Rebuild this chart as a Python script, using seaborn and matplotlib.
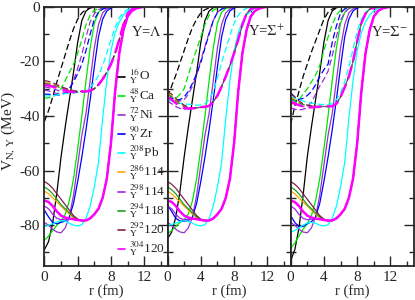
import numpy as np
import pandas as pd
import matplotlib
matplotlib.use('Agg')
import matplotlib.pyplot as plt
import seaborn as sns
from matplotlib.lines import Line2D
from matplotlib.ticker import MultipleLocator

# radial grid (fm) the curves were read on
r = [0, 0.5, 1, 1.5, 2, 2.5, 3, 3.5, 4, 4.5, 5, 5.5, 6, 6.5, 7, 7.5, 8, 8.5,
     9, 9.5, 10, 10.5, 11, 11.5, 12]

nuclei = ['16O', '48Ca', '72Ni', '90Zr', '208Pb', '286_114', '298_114', '294_118', '292_120', '304_120']
labels = [r'$^{16}_{\rm Y}$O', r'$^{48}_{\rm Y}$Ca', r'$^{72}_{\rm Y}$Ni', r'$^{90}_{\rm Y}$Zr',
          r'$^{208}_{\rm Y}$Pb', r'$^{286}_{\rm Y}$114', r'$^{298}_{\rm Y}$114', r'$^{294}_{\rm Y}$118',
          r'$^{292}_{\rm Y}$120', r'$^{304}_{\rm Y}$120']
colors = ['black', '#00e600', '#9932cc', '#0000ff', '#00ffff', '#ffa500', '#a020f0', '#1f9f1f',
          '#80204f', '#ff00ff']

# nucleon potential V_N (solid), MeV -- Lambda panel
vN_O = [-89, -86, -79, -68, -55, -44, -34, -24, -13, -5, -1.5, -0.3, 0]
vN_Ca = [-85.5, -84, -82, -80, -78.5, -76, -71, -63, -52, -40, -27, -15, -6, -2, -0.6, -0.2, 0]
vN_Ni = [-79, -80, -81.5, -82.5, -82.8, -81, -77, -69, -58, -47, -39, -27, -15, -6.5, -2.2, -0.7, -0.2, 0]
vN_Zr = [-74.5, -77, -79, -79.5, -79, -78.5, -77, -72, -64, -55, -45, -34, -22, -11, -4.5, -1.5, -0.4, 0]
vN_Pb = [-80.5, -80, -79.5, -78.8, -78.3, -78.5, -79.3, -80, -80.3, -79.8, -77.5, -73, -66, -57, -41,
         -27, -16, -9.5, -5.5, -3, -1.5, -0.6, -0.2, 0]
vN_she_tail = [-78.3, -78.3, -77.5, -76, -74, -70, -63, -50, -31, -17, -8.5, -3.5, -1.5, -0.6, -0.2, 0]
vN_286_114 = [-67.5, -68.5, -70, -71.5, -73, -74.5, -76, -77.3, -78.2] + vN_she_tail
vN_298_114 = [-73, -74, -76, -77.5, -78, -77.8, -77.5, -77.8, -78.2] + vN_she_tail
vN_294_118 = [-66, -67, -68.5, -70.5, -72.5, -74, -75.5, -77, -78] + vN_she_tail
vN_292_120 = [-64, -65, -66.5, -68.5, -70.5, -72.5, -74.5, -76.5, -77.8] + vN_she_tail
vN_304_120 = [-71, -71.5, -73, -75, -76.5, -77.2, -77.6, -77.8, -78.1] + vN_she_tail

# the light cores sit a little shallower with Sigma+ and deeper with Sigma-
vN_O_sp = [-85, -82.5, -77, -67.5] + vN_O[4:]
vN_Ca_sp = [-83, -82, -80.5, -79, -78, -76] + vN_Ca[6:]
vN_Zr_sp = [-72.5, -75, -77.5, -78.5, -78.5, -78.3] + vN_Zr[6:]
vN_Pb_sp = [-80, -79.7, -79.3, -78.7, -78.3, -78.5] + vN_Pb[6:]
vN_O_sm = [-93, -89, -81, -69] + vN_O[4:]
vN_Ca_sm = [-88.5, -86.5, -84, -81.5, -79.5, -76.5] + vN_Ca[6:]
vN_Zr_sm = [-76.5, -79, -80.5, -80.5, -79.5, -78.7] + vN_Zr[6:]
vN_Pb_sm = [-82.5, -82, -81, -80, -79.2, -79] + vN_Pb[6:]

# Lambda potential (dashed)
vL_O = [-42, -38, -33, -27.5, -22.5, -17.5, -12.5, -8, -4.5, -2.2, -1, -0.4, -0.1, 0]
vL_Ca = [-33.5, -33.3, -33, -32, -30, -27, -24, -21, -17, -12, -6.5, -3, -1.3, -0.5, -0.2, 0]
vL_Ni = [-30.5, -30.8, -31.3, -31.8, -32, -31.5, -30, -27, -22.5, -17.5, -11, -5.5, -2.5, -1, -0.4, -0.1, 0]
vL_Zr = [-32, -32, -32.2, -32.3, -32.2, -31.5, -30, -27.5, -24.5, -21, -16, -10, -4.5, -2, -0.8, -0.3, -0.1, 0]
vL_Pb = [-32.7, -32.6, -32.5, -32.3, -32, -31.8, -31.6, -31.5, -31.4, -31.2, -30.7, -29.5, -27.8, -25,
         -21.5, -17, -12, -7.5, -4, -2, -0.9, -0.4, -0.1, 0]
vL_she_tail = [-31, -31, -30.7, -30, -28.5, -26.5, -24, -21, -17, -12, -6.5, -2.5, -0.9, -0.3, 0]
vL_286_114 = [-27.6, -27.9, -28.3, -28.9, -29.5, -30, -30.4, -30.8, -31] + vL_she_tail
vL_298_114 = [-29.3, -29.6, -30, -30.5, -31, -31.3, -31.5, -31.4, -31.2] + vL_she_tail
vL_294_118 = [-28, -28.2, -28.6, -29.2, -29.7, -30.2, -30.6, -30.9, -31] + vL_she_tail
vL_292_120 = [-27, -27.3, -27.8, -28.5, -29.2, -29.8, -30.3, -30.7, -31] + vL_she_tail
vL_304_120 = [-28.5, -28.8, -29.2, -29.6, -30.1, -30.6, -31, -31.2, -31.2] + vL_she_tail

# Sigma+ potential (dashed)
vSp_O = [-33, -29, -25, -20.5, -16, -11.5, -7.5, -4.5, -2.2, -1, -0.4, -0.1, 0]
vSp_Ca = [-33, -33.5, -33.5, -32, -30, -25, -20, -15.5, -11, -6.5, -3, -1.2, -0.4, 0]
vSp_Ni = [-32, -33, -34, -34.5, -34, -32, -29, -25, -19.5, -14.5, -9.5, -5, -2, -0.8, -0.2, 0]
vSp_Zr = [-33, -33.5, -34, -34, -33, -31, -28, -24.5, -20.5, -15, -10, -5, -2, -0.8, -0.3, 0]
vSp_Pb = [-34, -34.5, -35, -35.3, -35.5, -35.7, -35.8, -36, -36, -35.5, -34, -31, -26, -20.5, -15.5,
          -10.5, -6, -3, -1.3, -0.5, -0.2, 0]
vSp_she_tail = [-36.6, -36.3, -34.8, -32.5, -29.2, -25.5, -21.5, -17, -12, -6.5, -2.5, -0.8, -0.2, 0]
vSp_286_114 = [-31.5, -32.5, -34, -35.3, -36.3, -37, -37.1, -37, -36.8] + vSp_she_tail
vSp_298_114 = [-34.5, -35.5, -36.5, -37.2, -37.5, -37.4, -37.2, -37, -36.8] + vSp_she_tail
vSp_294_118 = [-32, -33, -34.5, -35.7, -36.5, -37, -37.1, -37, -36.8] + vSp_she_tail
vSp_292_120 = [-31, -32, -33.5, -35, -36, -36.8, -37, -37, -36.8] + vSp_she_tail
vSp_304_120 = [-33, -34, -35.3, -36.3, -37, -37.2, -37.2, -37, -36.8] + vSp_she_tail

# Sigma- potential (dashed)
vSm_O = [-43, -36.5, -31, -25.5, -21, -16.5, -12.5, -8.5, -4.5, -2, -0.8, -0.2, 0]
vSm_Ca = [-35, -35, -34, -32, -30, -27.5, -25, -21.5, -16, -11, -6.5, -3, -1.2, -0.4, 0]
vSm_Ni = [-34, -35, -36, -36.5, -36.5, -35, -32, -29, -26.5, -23.5, -18, -11, -5, -2, -0.6, -0.1, 0]
vSm_Zr = [-31.5, -33, -34, -33.5, -32.5, -31, -28.5, -25.5, -23, -21, -13, -7, -2.2, -0.8, -0.2, 0]
vSm_Pb = [-33, -33.5, -34, -34.5, -35, -35.3, -35.5, -35.7, -35.8, -35.8, -35.5, -34, -31.5, -27.5,
          -22, -15.5, -9, -4.5, -2, -0.8, -0.3, 0]
vSm_she_tail = [-36.5, -36.4, -35.5, -33, -29.5, -25.5, -20, -12.5, -6, -2.5, -0.8, -0.3, 0]
vSm_286_114 = [-33, -34, -35, -35.8, -36.2, -36.4, -36.5, -36.5, -36.5] + vSm_she_tail
vSm_298_114 = [-37, -37.5, -37.8, -37.5, -37, -36.8, -36.6, -36.5, -36.5] + vSm_she_tail
vSm_294_118 = [-33.5, -34.3, -35.2, -35.8, -36.2, -36.4, -36.5, -36.5, -36.5] + vSm_she_tail
vSm_292_120 = [-32, -33, -34.5, -35.5, -36, -36.3, -36.5, -36.5, -36.5] + vSm_she_tail
vSm_304_120 = [-35, -35.5, -36, -36.5, -36.8, -36.8, -36.7, -36.6, -36.5] + vSm_she_tail

she_solid = [vN_286_114, vN_298_114, vN_294_118, vN_292_120, vN_304_120]
panels = [
    (r'Y=$\Lambda$',
     [vN_O, vN_Ca, vN_Ni, vN_Zr, vN_Pb] + she_solid,
     [vL_O, vL_Ca, vL_Ni, vL_Zr, vL_Pb, vL_286_114, vL_298_114, vL_294_118, vL_292_120, vL_304_120]),
    (r'Y=$\Sigma^{+}$',
     [vN_O_sp, vN_Ca_sp, vN_Ni, vN_Zr_sp, vN_Pb_sp] + she_solid,
     [vSp_O, vSp_Ca, vSp_Ni, vSp_Zr, vSp_Pb, vSp_286_114, vSp_298_114, vSp_294_118, vSp_292_120, vSp_304_120]),
    (r'Y=$\Sigma^{-}$',
     [vN_O_sm, vN_Ca_sm, vN_Ni, vN_Zr_sm, vN_Pb_sm] + she_solid,
     [vSm_O, vSm_Ca, vSm_Ni, vSm_Zr, vSm_Pb, vSm_286_114, vSm_298_114, vSm_294_118, vSm_292_120, vSm_304_120]),
]

sns.set_style('ticks')
plt.rcParams['font.family'] = ['Liberation Serif', 'DejaVu Serif']
plt.rcParams['mathtext.fontset'] = 'stix'
plt.rcParams['axes.unicode_minus'] = False
plt.rcParams['font.size'] = 10

fig, axes = plt.subplots(1, 3, figsize=(4.15, 3.0), dpi=100, sharey=True)
fig.subplots_adjust(left=0.107, right=0.997, top=0.977, bottom=0.113, wspace=0)

for ax, (title, solid_sets, dash_sets) in zip(axes, panels):
    for i, nuc in enumerate(nuclei):
        lw = 1.8 if nuc == '304_120' else 0.9
        vs = solid_sets[i]
        df = pd.DataFrame({'r': r[:len(vs)], 'V': vs})
        sns.lineplot(data=df, x='r', y='V', ax=ax, color=colors[i], lw=lw,
                     estimator=None, sort=False)
        vd = dash_sets[i]
        df = pd.DataFrame({'r': r[:len(vd)], 'V': vd})
        sns.lineplot(data=df, x='r', y='V', ax=ax, color=colors[i], lw=lw,
                     linestyle=(0, (5, 2.5)), estimator=None, sort=False)
    ax.set_xlim(0, 14.8)
    ax.set_ylim(-95, 0)
    ax.xaxis.set_major_locator(MultipleLocator(4))
    ax.xaxis.set_minor_locator(MultipleLocator(2))
    ax.yaxis.set_major_locator(MultipleLocator(20))
    ax.yaxis.set_minor_locator(MultipleLocator(10))
    ax.tick_params(which='both', direction='in', top=True, right=True, width=1.0, labelsize=11)
    ax.tick_params(which='major', length=7)
    ax.tick_params(which='minor', length=3.5)
    for s in ax.spines.values():
        s.set_linewidth(1.3)
    ax.set_xlabel('r (fm)', fontsize=10.5, labelpad=0)
    ax.set_ylabel('')
    ax.text(0.95, 0.905, title, transform=ax.transAxes, ha='right', va='center', fontsize=10.5)

axes[0].set_yticks([-80, -60, -40, -20, 0])
axes[0].set_yticklabels(['-80', '-60', '-40', '-20', '0'])
axes[0].set_ylabel(r'V$_{\rm N,\,Y}$ (MeV)', fontsize=11)
axes[0].yaxis.set_label_coords(-0.225, 0.52)

# legend drawn by hand so the rows sit at the reference spacing
W, H = 415.0, 300.0
for i, (lab, c) in enumerate(zip(labels, colors)):
    y_px = 76.7 + i * 19.14
    y = 1 - y_px / H
    fig.add_artist(Line2D([118 / W, 125 / W], [y, y], color=c, lw=1.2,
                          transform=fig.transFigure))
    fig.text(129 / W, 1 - (y_px + 3.5) / H, lab, ha='left', va='baseline', fontsize=9.5)

plt.savefig('out.png', dpi=100)
